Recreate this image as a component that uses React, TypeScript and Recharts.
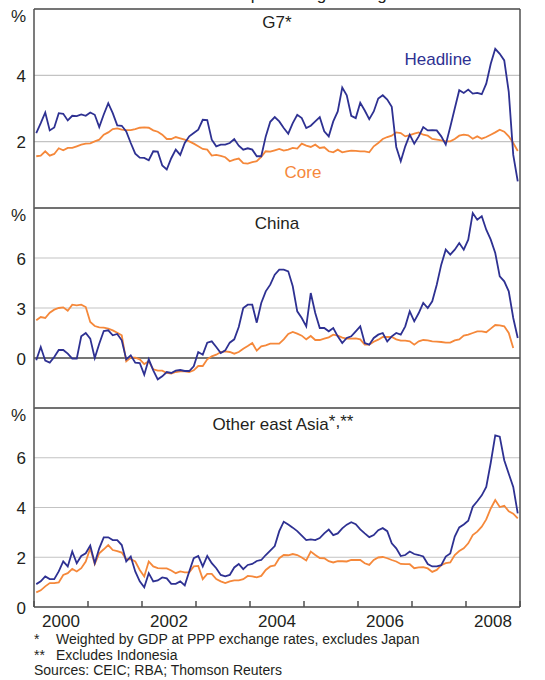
import { LineChart, Line, XAxis, YAxis, CartesianGrid, ReferenceLine } from "recharts";

// monthly observations, Jan 2000 to Dec 2008 (plotted mid-month)
const months = Array.from({ length: 108 }, (_, i) => i + 0.5);

const yearTicks = [0, 12, 24, 36, 48, 60, 72, 84, 96, 108];
const labelMonths = [6, 30, 54, 78, 102];
const xTickLabels = ["2000", "2002", "2004", "2006", "2008"];

const g7Headline = [
  2.26, 2.56, 2.88, 2.34, 2.43, 2.86, 2.84, 2.64, 2.78, 2.77, 2.82, 2.78,
  2.88, 2.81, 2.44, 2.82, 3.16, 2.86, 2.49, 2.48, 2.31, 1.96, 1.64, 1.52,
  1.51, 1.44, 1.71, 1.7, 1.28, 1.16, 1.5, 1.76, 1.6, 1.96, 2.16, 2.26,
  2.36, 2.66, 2.65, 2.06, 1.86, 1.91, 1.91, 1.96, 2.08, 1.88, 1.76, 1.8,
  1.76, 1.56, 1.56, 2.16, 2.6, 2.74, 2.61, 2.41, 2.24, 2.56, 2.81, 2.71,
  2.41, 2.48, 2.61, 2.74, 2.31, 2.16, 2.61, 2.91, 3.63, 3.4, 2.78, 2.71,
  3.17, 2.94, 2.68, 2.91, 3.3, 3.4, 3.27, 3.05, 1.84, 1.41, 1.86, 2.21,
  1.94, 2.16, 2.44, 2.34, 2.35, 2.34, 2.16, 1.91, 2.44, 3.0, 3.55, 3.47,
  3.57, 3.45, 3.47, 3.43, 3.75, 4.35, 4.8, 4.65, 4.45, 3.5, 1.6, 0.8,
];
const g7Core = [
  1.56, 1.58, 1.71, 1.58, 1.63, 1.8, 1.74, 1.81, 1.81, 1.86, 1.91, 1.94,
  1.95, 2.01, 2.06, 2.21, 2.28, 2.38, 2.4, 2.36, 2.35, 2.35, 2.38, 2.42,
  2.43, 2.42, 2.34, 2.3, 2.21, 2.08, 2.08, 2.14, 2.1, 2.06, 2.01, 1.94,
  1.86, 1.78, 1.76, 1.58, 1.6, 1.57, 1.53, 1.41, 1.46, 1.49, 1.35, 1.34,
  1.38, 1.41, 1.54, 1.71, 1.7, 1.74, 1.78, 1.73, 1.76, 1.81, 1.79, 1.94,
  1.88, 1.84, 1.91, 1.81, 1.83, 1.71, 1.68, 1.76, 1.68, 1.71, 1.73, 1.72,
  1.71, 1.71, 1.68, 1.86, 1.96, 2.08, 2.14, 2.18, 2.28, 2.26, 2.16, 2.2,
  2.24, 2.28, 2.21, 2.18, 2.08, 2.06, 2.04, 2.01, 2.01, 2.08, 2.18, 2.21,
  2.19, 2.09, 2.16, 2.09, 2.14, 2.21, 2.28, 2.36, 2.3, 2.16, 1.96, 1.72,
];

const chinaHeadline = [
  -0.14, 0.66, -0.16, -0.28, 0.06, 0.48, 0.48, 0.26, -0.04, -0.04, 1.3, 1.5,
  1.16, 0.0, 0.86, 1.62, 1.66, 1.36, 1.44, 1.06, -0.08, 0.16, -0.28, -0.3,
  -1.0, -0.08, -0.74, -1.28, -1.1, -0.84, -0.9, -0.76, -0.72, -0.78, -0.78, -0.5,
  0.36, 0.2, 0.92, 1.0, 0.66, 0.3, 0.46, 0.92, 1.12, 1.86, 3.0, 3.2,
  3.2, 2.12, 3.3, 4.0, 4.4, 5.0, 5.3, 5.3, 5.2, 4.3, 2.8, 2.4,
  1.9, 3.9, 2.7, 1.8, 1.8, 1.6, 1.8, 1.3, 0.9, 1.2, 1.3, 1.6,
  1.9, 0.9, 0.8, 1.2, 1.4, 1.5, 1.0, 1.3, 1.5, 1.4, 1.9, 2.8,
  2.2, 2.7, 3.3, 3.0, 3.4, 4.4, 5.6, 6.5, 6.2, 6.5, 6.9, 6.5,
  7.1, 8.7, 8.3, 8.5, 7.7, 7.1, 6.3, 4.9, 4.6, 4.0, 2.4, 1.2,
];
const chinaCore = [
  2.26, 2.46, 2.4, 2.72, 2.9, 3.0, 3.04, 2.84, 3.2, 3.16, 3.2, 3.06,
  2.16, 1.92, 1.84, 1.82, 1.76, 1.66, 1.52, 1.36, -0.2, 0.02, 0.02, -0.08,
  -0.36, -0.2, -0.68, -0.76, -0.76, -0.9, -0.94, -0.84, -0.8, -0.8, -0.84, -0.74,
  -0.48, -0.48, -0.08, 0.1, 0.2, 0.36, 0.4, 0.36, 0.26, 0.36, 0.56, 0.72,
  0.9, 0.44, 0.7, 0.76, 0.86, 0.86, 0.86, 1.12, 1.44, 1.56, 1.46, 1.34,
  1.12, 1.32, 1.08, 1.08, 1.16, 1.24, 1.4, 1.35, 1.22, 1.16, 1.16, 1.18,
  1.12, 0.8, 0.8, 0.98, 1.1, 1.26, 1.26, 1.26, 1.12, 1.04, 1.04, 1.0,
  0.8, 1.0, 1.08, 1.06, 1.0, 0.98, 0.96, 0.92, 0.92, 1.06, 1.12, 1.34,
  1.4, 1.5, 1.6, 1.6, 1.55, 1.76, 1.98, 1.96, 1.9, 1.5, 0.6, null,
];

const oeaHeadline = [
  0.92, 1.03, 1.23, 1.12, 1.12, 1.43, 1.83, 1.63, 2.23, 1.76, 2.05, 2.16,
  2.47, 1.76, 2.36, 2.8, 2.8, 2.69, 2.69, 2.49, 1.83, 2.03, 1.43, 1.03,
  0.79, 1.36, 1.03, 1.07, 1.19, 1.15, 0.93, 0.93, 1.03, 0.87, 1.43, 1.96,
  2.05, 1.63, 2.05, 1.76, 1.56, 1.29, 1.23, 1.29, 1.59, 1.73, 1.52, 1.69,
  1.73, 1.85, 1.89, 2.09, 2.27, 2.45, 3.05, 3.43, 3.32, 3.19, 3.05, 2.87,
  2.69, 2.72, 2.69, 2.77, 2.96, 3.11, 2.89, 2.96, 3.16, 3.31, 3.41, 3.33,
  3.12, 2.96, 2.81, 2.89, 3.09, 3.17, 3.05, 2.56, 2.36, 2.05, 2.09, 2.23,
  2.13, 2.09, 2.03, 1.73, 1.63, 1.63, 1.68, 2.03, 2.15, 2.83, 3.2, 3.32,
  3.47, 4.03, 4.25, 4.49, 4.83, 5.8, 6.9, 6.85, 5.9, 5.36, 4.83, 3.76,
];
const oeaCore = [
  0.59, 0.67, 0.83, 0.96, 0.96, 0.99, 1.29, 1.36, 1.53, 1.43, 1.56, 1.83,
  2.36, 1.73, 2.16, 2.32, 2.49, 2.29, 2.25, 2.19, 1.92, 1.92, 1.83, 1.49,
  1.23, 1.83, 1.63, 1.56, 1.55, 1.55, 1.47, 1.36, 1.43, 1.39, 1.39, 1.63,
  1.65, 1.12, 1.33, 1.33, 1.12, 1.03, 0.96, 1.03, 1.07, 1.07, 1.12, 1.25,
  1.23, 1.19, 1.25, 1.49, 1.63, 1.67, 1.96, 2.09, 2.08, 2.13, 2.09, 1.99,
  1.87, 2.23, 2.09, 1.97, 1.96, 1.84, 1.79, 1.84, 1.84, 1.83, 1.89, 1.89,
  1.89, 1.76, 1.69, 1.89, 1.99, 2.01, 1.96, 1.89, 1.83, 1.73, 1.72, 1.72,
  1.56, 1.59, 1.6, 1.55, 1.41, 1.49, 1.68, 1.76, 1.79, 2.09, 2.25, 2.36,
  2.56, 2.89, 3.03, 3.23, 3.52, 3.96, 4.3, 4.02, 4.07, 3.85, 3.75, 3.56,
];

const NAVY = "#2e3192";
const ORANGE = "#f5883a";
const AXIS = "#505050";
const GRID = "#c3c3c3";
const INK = "#231f20";
const FONT = '"Liberation Sans", Arial, Helvetica, sans-serif';

const xTicks = [...yearTicks, ...labelMonths].sort((a, b) => a - b);

interface PanelProps {
  top: number;
  plotTop: number;
  plotHeight: number;
  domain: [number, number];
  ticks: number[];
  headline: (number | null)[];
  core: (number | null)[];
  zeroLine?: boolean;
  showXAxis?: boolean;
}

const Panel = ({ top, plotTop, plotHeight, domain, ticks, headline, core, zeroLine, showXAxis }: PanelProps) => {
  const rows = months.map((t, i) => ({ t, headline: headline[i], core: core[i] }));
  const [lo, hi] = domain;
  const axisH = showXAxis ? 40 : 0;

  const yTick = (props: any) => {
    const { x, y, payload, textAnchor } = props;
    const v = payload.value;
    if (v === lo && !showXAxis) return <g />;
    const isTop = v === hi;
    return (
      <text x={x} y={y + (isTop ? 7 : 1)} textAnchor={textAnchor} dominantBaseline="central"
        fontSize={17} fontFamily={FONT} fill={INK}>
        {isTop ? "%" : v}
      </text>
    );
  };

  const xTick = (props: any) => {
    const { x, y, payload } = props;
    const v = payload.value;
    if (yearTicks.includes(v)) {
      return <line x1={x} x2={x} y1={y} y2={y - 6} stroke={AXIS} strokeWidth={1.5} />;
    }
    const label = xTickLabels[labelMonths.indexOf(v)];
    return (
      <text x={x} y={y + 14} textAnchor="middle" dominantBaseline="central" fontSize={17}
        fontFamily={FONT} fill={INK}>
        {label}
      </text>
    );
  };

  return (
    <div style={{ position: "absolute", left: 0, top }}>
      <LineChart width={545} height={plotTop + plotHeight + axisH + 8} data={rows}
        margin={{ top: plotTop, right: 0, bottom: 8, left: 0 }}>
        <CartesianGrid vertical={false} stroke={GRID} strokeWidth={1.2} />
        <XAxis dataKey="t" type="number" domain={[0, 108]} ticks={xTicks} interval={0}
          hide={!showXAxis} height={axisH} tickLine={false} tickSize={0} tickMargin={0}
          tick={xTick} axisLine={{ stroke: AXIS, strokeWidth: 1.5 }} />
        <YAxis domain={domain} ticks={ticks} interval={0} width={34} tickLine={false}
          tick={yTick} axisLine={{ stroke: AXIS, strokeWidth: 1.5 }} />
        <YAxis yAxisId="r" orientation="right" domain={domain} ticks={ticks} interval={0}
          width={25} tickLine={false} tick={yTick} axisLine={{ stroke: AXIS, strokeWidth: 1.5 }} />
        <ReferenceLine y={hi} stroke={AXIS} strokeWidth={1.5} />
        {zeroLine && <ReferenceLine y={0} stroke={AXIS} strokeWidth={1.5} />}
        <Line dataKey="core" stroke={ORANGE} strokeWidth={1.8} dot={false} isAnimationActive={false} />
        <Line dataKey="headline" stroke={NAVY} strokeWidth={1.8} dot={false} isAnimationActive={false} />
      </LineChart>
    </div>
  );
};

const label = (text: any, x: number, y: number, color = INK, size = 17) => (
  <div style={{ position: "absolute", left: x, top: y, transform: "translate(-50%, -50%)",
    fontSize: size, color, whiteSpace: "nowrap", lineHeight: 1 }}>
    {text}
  </div>
);

export default function App() {
  return (
    <div style={{ position: "absolute", left: 0, top: 0, width: 545, height: 680, background: "#fff",
      fontFamily: FONT, color: INK, overflow: "hidden" }}>
      <div style={{ position: "absolute", left: 0, width: 555, top: -14, textAlign: "center", fontSize: 17,
        lineHeight: "17px" }}>
        Year-ended percentage change
      </div>

      <Panel top={0} plotTop={9} plotHeight={199} domain={[0, 6]} ticks={[0, 2, 4, 6]}
        headline={g7Headline} core={g7Core} />
      <Panel top={198} plotTop={10} plotHeight={200} domain={[-3, 9]} ticks={[-3, 0, 3, 6, 9]}
        headline={chinaHeadline} core={chinaCore} zeroLine />
      <Panel top={398} plotTop={10} plotHeight={199} domain={[0, 8]} ticks={[0, 2, 4, 6, 8]}
        headline={oeaHeadline} core={oeaCore} showXAxis />

      {label("G7*", 277, 22)}
      {label("Headline", 438, 59, NAVY)}
      {label("Core", 303, 172, ORANGE)}
      {label("China", 277, 223)}
      {label(<>Other east Asia<span style={{ position: "relative", top: -3 }}>*,**</span></>, 283, 424)}

      <div style={{ position: "absolute", left: 34, top: 632, fontSize: 14, lineHeight: "15.5px" }}>
        <div><span style={{ display: "inline-block", width: 22 }}>*</span>Weighted by GDP at PPP exchange rates, excludes Japan</div>
        <div><span style={{ display: "inline-block", width: 22 }}>**</span>Excludes Indonesia</div>
        <div>Sources: CEIC; RBA; Thomson Reuters</div>
      </div>
    </div>
  );
}
